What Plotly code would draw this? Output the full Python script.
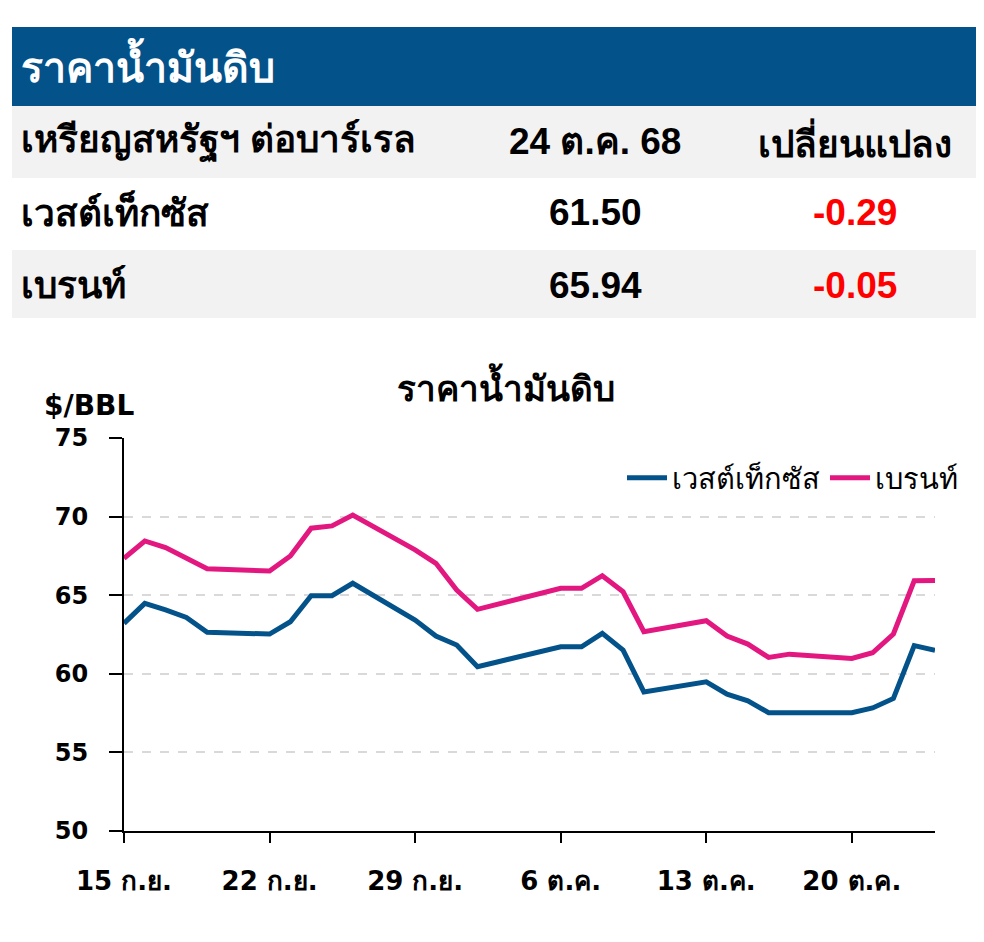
import plotly.graph_objects as go

# ---------------- data ----------------
dates = ["2025-09-15", "2025-09-16", "2025-09-17", "2025-09-18", "2025-09-19",
         "2025-09-22", "2025-09-23", "2025-09-24", "2025-09-25", "2025-09-26",
         "2025-09-29", "2025-09-30", "2025-10-01", "2025-10-02", "2025-10-03",
         "2025-10-06", "2025-10-07", "2025-10-08", "2025-10-09", "2025-10-10",
         "2025-10-13", "2025-10-14", "2025-10-15", "2025-10-16", "2025-10-17",
         "2025-10-20", "2025-10-21", "2025-10-22", "2025-10-23", "2025-10-24"]
wti = [63.21, 64.48, 64.06, 63.59, 62.64,
       62.53, 63.31, 64.97, 64.97, 65.76,
       63.42, 62.40, 61.83, 60.45, 60.77,
       61.72, 61.72, 62.57, 61.51, 58.85,
       59.49, 58.70, 58.28, 57.52, 57.52,
       57.52, 57.83, 58.43, 61.79, 61.50]
brent = [67.35, 68.45, 68.03, 67.38, 66.68,
         66.54, 67.50, 69.26, 69.41, 70.10,
         67.88, 67.03, 65.33, 64.10, 64.43,
         65.44, 65.44, 66.24, 65.22, 62.68,
         63.38, 62.40, 61.89, 61.04, 61.25,
         60.98, 61.34, 62.53, 65.92, 65.94]
series_names = ["เวสต์เท็กซัส", "เบรนท์"]
tick_dates = ["2025-09-15", "2025-09-22", "2025-09-29", "2025-10-06", "2025-10-13", "2025-10-20"]
tick_labels = ["15 ก.ย.", "22 ก.ย.", "29 ก.ย.", "6 ต.ค.", "13 ต.ค.", "20 ต.ค."]
y_ticks = [50, 55, 60, 65, 70, 75]

table_title = "ราคาน้ำมันดิบ"
table_header = ["เหรียญสหรัฐฯ ต่อบาร์เรล", "24 ต.ค. 68", "เปลี่ยนแปลง"]
table_rows = [["เวสต์เท็กซัส", "61.50", "-0.29"],
              ["เบรนท์", "65.94", "-0.05"]]
chart_title = "ราคาน้ำมันดิบ"
unit_label = "$/BBL"

# ---------------- layout geometry ----------------
OFF = 8  # default page body margin
W, H = 984 - 2 * OFF, 942 - 2 * OFF
L, R, T, B = 124 - OFF, 935 - OFF, 438 - OFF, 831 - OFF
PW, PH = R - L, B - T

def px(x):
    return (x - OFF - L) / PW

def py(y):
    return (B - (y - OFF)) / PH

BLUE = "#03528A"
PINK = "#E2177F"
GRAY_BG = "#F2F2F2"
FONT = "Liberation Sans, Arial, sans-serif"
AXFONT = "DejaVu Sans, sans-serif"

fig = go.Figure()
fig.add_trace(go.Scatter(x=dates, y=wti, mode="lines", name=series_names[0],
                         line=dict(color=BLUE, width=5)))
fig.add_trace(go.Scatter(x=dates, y=brent, mode="lines", name=series_names[1],
                         line=dict(color=PINK, width=5)))

shapes = []
shapes.append(dict(type="rect", xref="paper", yref="paper", x0=px(12), x1=px(990),
                   y0=py(106), y1=py(27), fillcolor=BLUE, line=dict(width=0), layer="below"))
shapes.append(dict(type="rect", xref="paper", yref="paper", x0=px(12), x1=px(990),
                   y0=py(178), y1=py(106), fillcolor=GRAY_BG, line=dict(width=0), layer="below"))
shapes.append(dict(type="rect", xref="paper", yref="paper", x0=px(12), x1=px(990),
                   y0=py(318), y1=py(250), fillcolor=GRAY_BG, line=dict(width=0), layer="below"))

ann = []
TS = 37
ann.append(dict(text="<b>" + table_title + "</b>", x=px(19), y=py(64), xanchor="left", yanchor="middle",
                font=dict(size=41, color="white", family=FONT)))
row_y = [141, 212, 285]
col_x = [595, 855]
ann.append(dict(text="<b>" + table_header[0] + "</b>", x=px(19), y=py(row_y[0]), xanchor="left",
                yanchor="middle", font=dict(size=TS, color="black", family=FONT)))
for j in range(2):
    ann.append(dict(text="<b>" + table_header[j + 1] + "</b>", x=px(col_x[j]), y=py(row_y[0]),
                    xanchor="center", yanchor="middle", font=dict(size=TS, color="black", family=FONT)))
for i, row in enumerate(table_rows):
    yy = py(row_y[i + 1])
    ann.append(dict(text="<b>" + row[0] + "</b>", x=px(19), y=yy, xanchor="left", yanchor="middle",
                    font=dict(size=TS, color="black", family=FONT)))
    ann.append(dict(text="<b>" + row[1] + "</b>", x=px(col_x[0]), y=yy, xanchor="center", yanchor="middle",
                    font=dict(size=TS, color="black", family=FONT)))
    ann.append(dict(text="<b>" + row[2] + "</b>", x=px(col_x[1]), y=yy, xanchor="center", yanchor="middle",
                    font=dict(size=TS, color="#FF0000", family=FONT)))

ann.append(dict(text="<b>" + chart_title + "</b>", x=px(506), y=py(385), xanchor="center", yanchor="middle",
                font=dict(size=35, color="black", family=FONT)))
ann.append(dict(text="<b>" + unit_label + "</b>", x=px(42), y=py(405), xanchor="left", yanchor="middle",
                font=dict(size=28, color="black", family=AXFONT)))

for a in ann:
    a.update(xref="paper", yref="paper", showarrow=False)

fig.update_layout(
    width=W, height=H,
    margin=dict(l=L, r=W - R, t=T, b=H - B, pad=0),
    paper_bgcolor="white", plot_bgcolor="white",
    shapes=shapes, annotations=ann,
    showlegend=True,
    legend=dict(orientation="h", x=px(963), xanchor="right", y=py(478), yanchor="middle",
                font=dict(size=29, color="black", family=FONT), bgcolor="rgba(0,0,0,0)",
                itemwidth=40, tracegroupgap=0),
    xaxis=dict(type="date", range=["2025-09-15", "2025-10-24"],
               tickmode="array", tickvals=tick_dates, ticktext=["<b>" + t + "</b>" for t in tick_labels],
               ticks="outside", ticklen=10, tickwidth=2, tickcolor="black",
               showline=True, linecolor="black", linewidth=2, showgrid=False, zeroline=False,
               tickfont=dict(size=26, color="black", family=AXFONT), ticklabelstandoff=16),
    yaxis=dict(range=[50, 75], tickmode="array", tickvals=y_ticks,
               ticktext=["<b>%d</b>" % v for v in y_ticks],
               ticks="outside", ticklen=13, tickwidth=2, tickcolor="black",
               showline=True, linecolor="black", linewidth=2,
               showgrid=True, gridcolor="#D9D9D9", griddash="dash", gridwidth=1.5, zeroline=False,
               tickfont=dict(size=24, color="black", family=AXFONT), ticklabelstandoff=16),
)

fig.write_html("out.html")
